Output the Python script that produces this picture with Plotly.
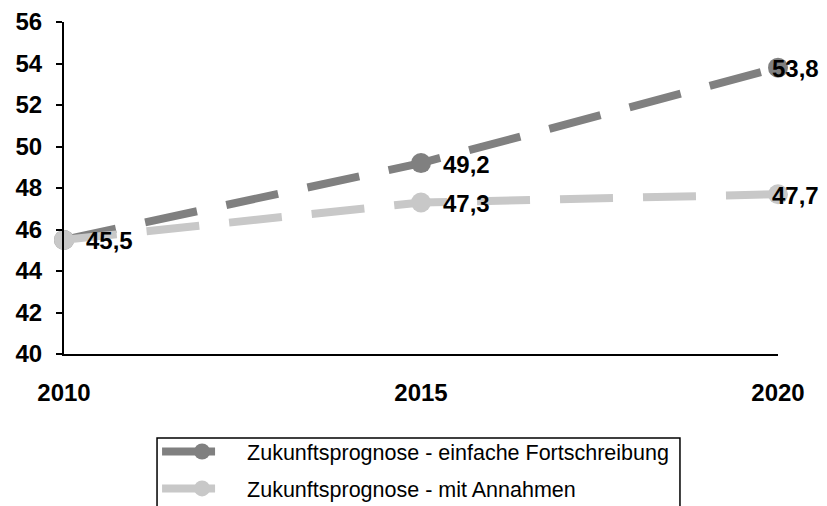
import plotly.graph_objects as go

years = [2010, 2015, 2020]
series1_name = "Zukunftsprognose - einfache Fortschreibung"
series1 = [45.5, 49.2, 53.8]
series2_name = "Zukunftsprognose - mit Annahmen"
series2 = [45.5, 47.3, 47.7]
series2_show_label = [False, True, True]
y_ticks = [40, 42, 44, 46, 48, 50, 52, 54, 56]
x_ticks = [2010, 2015, 2020]

FONT = "Liberation Sans, Arial, sans-serif"


def fmt(v):
    return f"{v:.1f}".replace(".", ",")


fig = go.Figure()
fig.add_trace(go.Scatter(
    x=years, y=series1, name=series1_name, mode="lines+markers",
    line=dict(color="#808080", width=8, dash="53px,30px"),
    marker=dict(color="#808080", size=20),
    legendgroup="a", cliponaxis=False,
))
fig.add_trace(go.Scatter(
    x=years, y=series2, name=series2_name, mode="lines+markers",
    line=dict(color="#C8C8C8", width=8, dash="53px,30px"),
    marker=dict(color="#C8C8C8", size=20),
    legendgroup="b", cliponaxis=False,
))

# data labels (right of the point; last point kept inside the canvas)
annotations = []
for series, shows in ((series1, [True, True, True]), (series2, series2_show_label)):
    for i, (xv, yv, s) in enumerate(zip(years, series, shows)):
        if not s:
            continue
        annotations.append(dict(
            x=xv, y=yv, xref="x", yref="y", text=fmt(yv), showarrow=False,
            xanchor="left", yanchor="middle",
            xshift=-8 if i == len(years) - 1 else 20, yshift=-1,
            font=dict(family=FONT, size=24, color="black", weight="bold"),
        ))

fig.update_layout(
    width=819, height=498,
    margin=dict(l=56, r=49, t=14, b=152, pad=0, autoexpand=False),
    paper_bgcolor="white", plot_bgcolor="white",
    font=dict(family=FONT, color="black"),
    showlegend=True,
    annotations=annotations,
    legend=dict(
        xref="container", yref="container",
        x=0.182, xanchor="left", y=0.1506, yanchor="top",
        borderwidth=0, bgcolor="rgba(0,0,0,0)",
        font=dict(size=21.5, family=FONT, color="black"),
        itemwidth=80, tracegroupgap=6,
    ),
    shapes=[dict(
        type="rect", xref="paper", yref="paper",
        x0=0.1303, x1=0.8627, y0=-0.253, y1=-0.52,
        line=dict(color="black", width=1.5), fillcolor="rgba(0,0,0,0)",
        layer="above",
    )],
)
fig.update_xaxes(
    range=[2010, 2020], tickvals=x_ticks, ticktext=[str(v) for v in x_ticks],
    showline=True, linecolor="black", linewidth=2, showgrid=False, zeroline=False,
    ticks="", ticklabelstandoff=16, automargin=False,
    tickfont=dict(size=24, family=FONT, color="black", weight="bold"),
)
fig.update_yaxes(
    range=[40, 56], tickvals=y_ticks,
    showline=True, linecolor="black", linewidth=2, showgrid=False, zeroline=False,
    ticks="outside", ticklen=6, tickwidth=2, tickcolor="black", ticklabelstandoff=9,
    automargin=False, ticklabeloverflow="allow",
    tickfont=dict(size=24, family=FONT, color="black", weight="bold"),
)

fig.write_html("out.html")
